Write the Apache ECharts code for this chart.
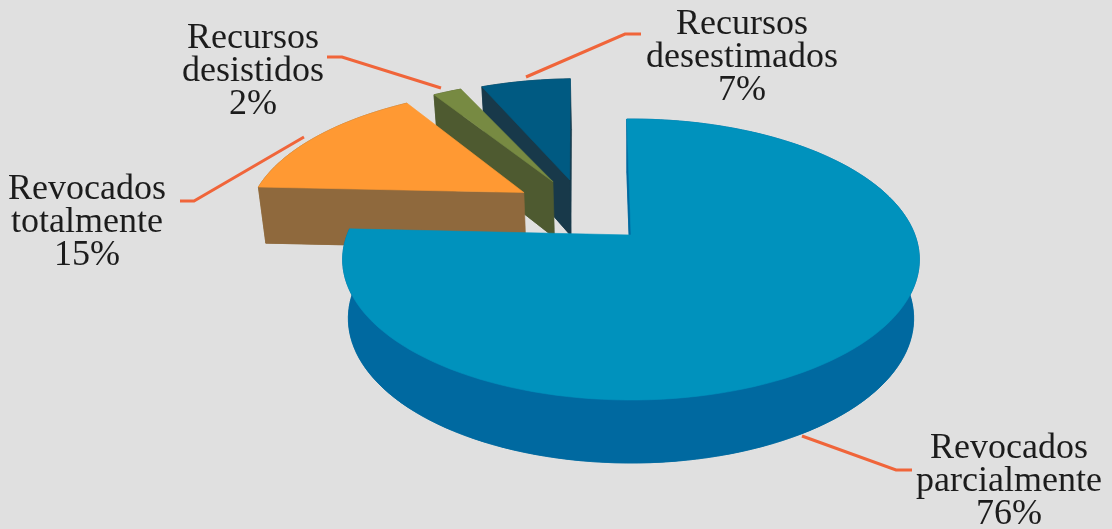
<!DOCTYPE html>
<html>
<head>
<meta charset="utf-8">
<style>
  html, body { margin: 0; padding: 0; background: #e0e0e0; }
  #chart { width: 1112px; height: 529px; }
</style>
</head>
<body>
<div id="chart"></div>
<script src="https://cdn.jsdelivr.net/npm/echarts@6/dist/echarts.min.js"></script>
<script>
// data
const categories = [
  ['Revocados', 'parcialmente'],
  ['Revocados', 'totalmente'],
  ['Recursos', 'desistidos'],
  ['Recursos', 'desestimados']
];
const values = [76, 15, 2, 7];

// colours per slice
const topColors = ['#0092bd', '#ff9933', '#778a42', '#005a82'];
const sideColors = ['#0069a0', '#8f693d', '#4e5a30', '#18394a'];

// how far each slice is pulled out of the pie, in radius units
const explode = [[0, 0], [-0.399, 0.33], [-0.295, 0.42], [-0.232, 0.434]];
// degrees shaved off each slice edge (the blue wedge sits narrower in the picture)
const trim = [[0, 0], [0, 0], [0, 0], [1.6, 1]];

// label boxes and their leader lines
const labelCenters = [[1009, 447], [87, 188], [253, 37], [742, 23]];
const leaders = [
  [[802, 436], [896, 470], [912, 470]],
  [[180, 201], [194, 201], [304, 137]],
  [[327, 57], [342, 57], [441, 88]],
  [[526, 77], [625, 34], [641, 34]]
];

// tilted pie projection, fitted to the picture
const CX = 631;
const APEX_Y = 235;
const RADIUS = 284;
const TILT = -95.25;
const PERSP = 0.1744;
const START_ANGLE = -1;

function projectTop(u, v) {
  const w = 1 + PERSP * v;
  return [CX + RADIUS * u / w, (APEX_Y + TILT * v) / w];
}

function projectBottom(u, v) {
  const p = projectTop(u, v);
  return [CX + (p[0] - CX) * 0.98, p[1] + 58 - 5 * v];
}

function sliceOutline(from, to, off, project) {
  const pts = [];
  const steps = Math.max(2, Math.ceil((to - from) / 2));
  for (let i = 0; i <= steps; i++) {
    const a = (from + (to - from) * i / steps) * Math.PI / 180;
    pts.push(project(Math.sin(a) + off[0], Math.cos(a) + off[1]));
  }
  return pts;
}

const total = values.reduce((a, b) => a + b, 0);

function polygon(points, color, z2) {
  return {
    type: 'polygon',
    z2: z2,
    shape: { points: points },
    style: { fill: color, stroke: color, lineWidth: 0.6 }
  };
}

function renderSlice(params, api) {
  const i = params.dataIndex;
  let before = 0;
  for (let k = 0; k < i; k++) before += values[k];
  const start = START_ANGLE + before / total * 360;
  const from = start + trim[i][0];
  const to = start + api.value(0) / total * 360 - trim[i][1];
  const off = explode[i];
  const level = (values.length - i) * 10;

  const arcTop = sliceOutline(from, to, off, projectTop);
  const arcBottom = sliceOutline(from, to, off, projectBottom);
  const apexTop = projectTop(off[0], off[1]);
  const apexBottom = projectBottom(off[0], off[1]);

  const side = sideColors[i];
  const top = [apexTop].concat(arcTop);
  return {
    type: 'group',
    children: [
      polygon([apexBottom].concat(arcBottom), side, level),
      polygon(arcTop.concat(arcBottom.slice().reverse()), side, level),
      polygon([apexTop, arcTop[0], arcBottom[0], apexBottom], side, level),
      polygon(top, topColors[i], level + 1)
    ]
  };
}

function renderCallout(params, api) {
  const i = params.dataIndex;
  const c = labelCenters[i];
  const text = categories[i].concat(api.value(0) + '%').join('\n');
  return {
    type: 'group',
    children: [
      {
        type: 'polyline',
        z2: 100,
        shape: { points: leaders[i] },
        style: { fill: null, stroke: '#f0653a', lineWidth: 3 }
      },
      {
        type: 'text',
        z2: 101,
        x: c[0],
        y: c[1] - 15,
        style: {
          text: text,
          fill: '#1c1c1c',
          font: '36px "Liberation Serif", serif',
          lineHeight: 33,
          align: 'center',
          verticalAlign: 'top'
        }
      }
    ]
  };
}

const chart = echarts.init(document.getElementById('chart'));
chart.setOption({
  backgroundColor: '#e0e0e0',
  animation: false,
  series: [
    {
      type: 'custom',
      coordinateSystem: 'none',
      renderItem: renderSlice,
      data: values.map((v) => [v]),
      silent: true
    },
    {
      type: 'custom',
      coordinateSystem: 'none',
      renderItem: renderCallout,
      data: values.map((v) => [v]),
      silent: true
    }
  ]
});
</script>
</body>
</html>
